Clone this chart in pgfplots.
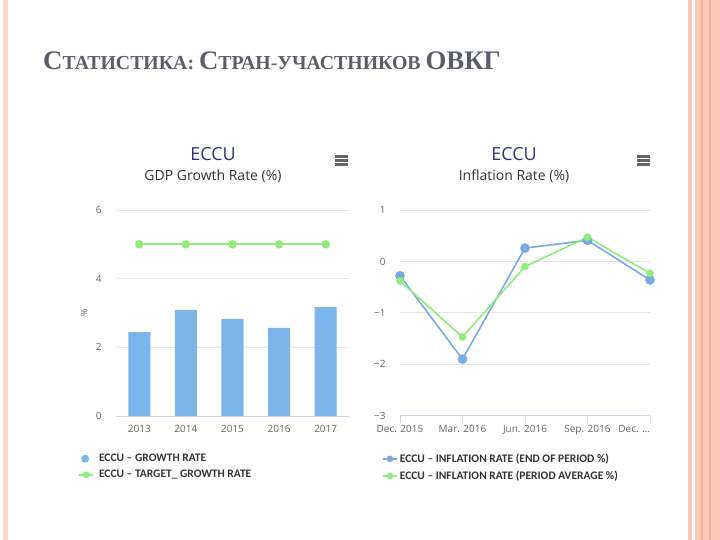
\documentclass[border=0pt]{standalone}
\usepackage{fontspec}
\usepackage{pgfplots}
\pgfplotsset{compat=1.18}
\setmainfont{Open Sans}
\newfontfamily\slidefont{Liberation Serif}
\newfontfamily\legfont{Carlito}

\definecolor{barblue}{HTML}{7CB5EC}
\definecolor{lineblue}{HTML}{7AAAE2}
\definecolor{tgreen}{HTML}{90ED7D}
\definecolor{gridc}{HTML}{E6E6E6}
\definecolor{axisc}{HTML}{CCD6EB}
\definecolor{tickc}{HTML}{666666}
\definecolor{navy}{HTML}{333377}
\definecolor{subc}{HTML}{333333}
\definecolor{pinkA}{HTML}{FAC8B6}
\definecolor{pinkB}{HTML}{F2B19B}
\definecolor{slidetitle}{HTML}{5A5E66}

\pgfplotsset{
  hc/.style={
    scale only axis,
    axis x line*=bottom, axis y line*=left,
    y axis line style={draw=none},
    x axis line style={axisc, line width=0.8pt},
    ymajorgrids, grid style={gridc, line width=0.8pt},
    major tick length=0pt,
    y tick style={draw=none},
    tick label style={font=\fontsize{10}{10}\selectfont, text=tickc},
    yticklabel style={xshift=-11pt},
    /pgf/number format/assume math mode=true,
    legend style={draw=none, fill=none, inner sep=0pt,
      font=\legfont\bfseries\fontsize{11.5}{11.5}\selectfont, text=subc,
      row sep=3pt, cells={anchor=west}},
  },
  lineleg/.style={legend image code/.code={
    \draw[mark repeat=2, mark phase=2, ##1, mark size=2.5pt]
      plot coordinates {(0pt,0pt) (7pt,0pt) (14pt,0pt)};}},
}

\begin{document}
\begin{tikzpicture}
\useasboundingbox (0pt,0pt) rectangle (720pt,540pt);
\fill[white] (0pt,0pt) rectangle (720pt,540pt);
% slide borders
\fill[pinkA!75] (3pt,0pt) rectangle (8pt,540pt);
\fill[pinkA] (688pt,0pt) rectangle (692pt,540pt);
\fill[pinkA] (695pt,0pt) rectangle (720pt,540pt);
\fill[pinkB] (701pt,0pt) rectangle (703pt,540pt);
\fill[pinkB] (709pt,0pt) rectangle (711pt,540pt);

% slide title
\node[anchor=base west, inner sep=0pt, text=slidetitle, font=\slidefont\bfseries]
  at (43pt,470pt) {\fontsize{26.8}{27}\selectfont С\fontsize{19.8}{20}\selectfont ТАТИСТИКА:
  \fontsize{26.8}{27}\selectfont С\fontsize{19.8}{20}\selectfont ТРАН-УЧАСТНИКОВ
  \fontsize{26.8}{27}\selectfont ОВКГ};

% chart titles
\node[text=navy, font=\fontsize{18}{18}\selectfont] at (213pt,386pt) {ECCU};
\node[text=subc, font=\fontsize{14}{14}\selectfont] at (213pt,364pt) {GDP Growth Rate (\%)};
\node[text=navy, font=\fontsize{18}{18}\selectfont] at (514pt,386pt) {ECCU};
\node[text=subc, font=\fontsize{14}{14}\selectfont] at (514pt,364pt) {Inflation Rate (\%)};

% menu icons
\foreach \x in {335,637} {
  \foreach \y in {383.5,379.5,375.5}
    \fill[tickc] (\x pt,\y pt-1.2pt) rectangle (\x pt+13pt,\y pt+1.2pt);
}

% left chart
\begin{axis}[hc,
  at={(116pt,124pt)}, anchor=south west,
  width=233pt, height=206pt,
  xmin=-0.5, xmax=4.5, ymin=0, ymax=6,
  xtick={0,1,2,3,4}, xticklabels={2013,2014,2015,2016,2017},
  ytick={0,2,4,6},
  xticklabel style={yshift=-6pt},
  ylabel={\%}, ylabel style={at={(axis description cs:-0.137,0.5)}, anchor=center, text=tickc, font=\fontsize{9}{9}\selectfont},
  legend style={at={(-0.163,-0.175)}, anchor=north west},
]
\addplot[ybar, bar width=22pt, fill=barblue, draw=none,
  legend image code/.code={\fill[barblue] (6pt,0pt) circle (4pt);}]
  coordinates {(0,2.44) (1,3.09) (2,2.83) (3,2.57) (4,3.17)};
\addlegendentry{\hspace{3pt}ECCU – GROWTH RATE}
\addplot[lineleg, tgreen, line width=1.8pt, mark=*, mark size=3.3pt]
  coordinates {(0,5) (1,5) (2,5) (3,5) (4,5)};
\addlegendentry{\hspace{3pt}ECCU – TARGET\_ GROWTH RATE}
\end{axis}

% right chart
\begin{axis}[hc,
  at={(400pt,124.3pt)}, anchor=south west,
  width=250pt, height=205.7pt,
  xmin=0, xmax=4, ymin=-3, ymax=1,
  xtick={0,1,2,3,4},
  xticklabels={Dec. 2015, Mar. 2016, Jun. 2016, Sep. 2016, \makebox[0pt][r]{Dec. …}},
  ytick={-3,-2,-1,0,1}, yticklabels={−3,−2,−1,0,1},
  x tick style={axisc, line width=0.8pt}, xtick align=outside,
  xmajorticks=true, major tick length=7pt,
  xticklabel style={yshift=1pt},
  legend style={at={(-0.072,-0.175)}, anchor=north west},
]
\addplot[lineleg, lineblue, line width=1.6pt, mark=*, mark size=4pt]
  coordinates {(0,-0.28) (1,-1.90) (2,0.26) (3,0.41) (4,-0.36)};
\addlegendentry{ECCU – INFLATION RATE (END OF PERIOD \%)}
\addplot[lineleg, tgreen, line width=1.6pt, mark=*, mark size=3pt]
  coordinates {(0,-0.38) (1,-1.47) (2,-0.10) (3,0.47) (4,-0.23)};
\addlegendentry{ECCU – INFLATION RATE (PERIOD AVERAGE \%)}
\end{axis}
\end{tikzpicture}
\end{document}
